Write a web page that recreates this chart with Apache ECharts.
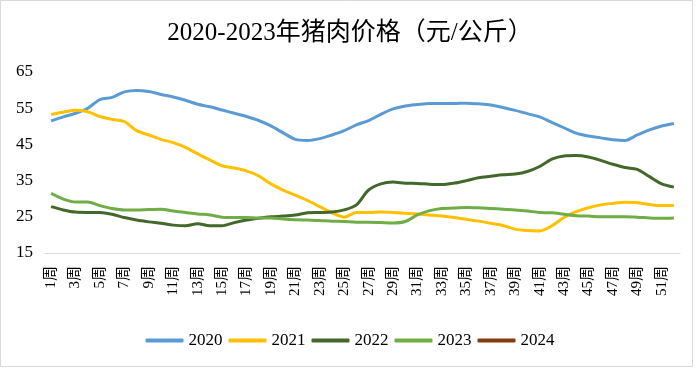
<!DOCTYPE html>
<html>
<head>
<meta charset="utf-8">
<script src="https://cdn.jsdelivr.net/npm/echarts@6/dist/echarts.min.js"></script>
<style>
html,body{margin:0;padding:0;background:#fff;}
#main{width:700px;height:368px;}
</style>
</head>
<body>
<div id="main"></div>
<script>
var titleText = '2020-2023年猪肉价格（元/公斤）';
var weeks = [];
for (var i = 1; i <= 52; i++) weeks.push(i + '周');
var yTicks = [15, 25, 35, 45, 55, 65];
var seriesNames = ['2020', '2021', '2022', '2023', '2024'];
var seriesColors = ['#5B9BD5', '#FFC000', '#43682B', '#70AD47', '#843C0C'];

var y2020 = [51.5,52.6,53.6,55,57.4,58,59.5,59.9,59.6,58.8,
             58.1,57.2,56.1,55.4,54.5,53.6,52.7,51.6,50.1,48.2,
             46.4,46.1,46.6,47.6,48.8,50.4,51.6,53.3,54.8,55.6,
             56,56.3,56.3,56.3,56.4,56.2,55.9,55.2,54.4,53.5,
             52.6,51.1,49.6,48.1,47.3,46.8,46.3,46.1,47.6,49,
             50.1,50.8];
var y2021 = [53.3,53.9,54.4,54,52.7,51.9,51.3,48.8,47.6,46.4,
             45.5,44.2,42.4,40.7,39.1,38.5,37.7,36.3,34.1,32.4,
             31,29.5,27.8,26.1,24.9,26.2,26.2,26.3,26.2,26.0,
             25.8,25.5,25.2,24.8,24.3,23.8,23.2,22.6,21.6,21.2,
             21.1,22.5,24.8,26.4,27.5,28.3,28.7,29,28.9,28.4,
             28.1,28.1];
var y2022 = [27.8,26.9,26.3,26.2,26.2,25.7,24.8,24.1,23.6,23.2,
             22.7,22.5,23.1,22.5,22.5,23.4,24.1,24.6,25,25.2,
             25.5,26.1,26.2,26.3,26.9,28.3,32.4,34.1,34.6,34.3,
             34.2,34,33.9,34.3,35,35.8,36.2,36.6,36.8,37.5,
             38.9,40.9,41.8,41.9,41.5,40.6,39.5,38.6,38.1,36.1,
             34.1,33.2];
var y2023 = [31.5,29.9,29.1,29.1,28.1,27.3,26.9,26.9,27.0,27.1,
             26.6,26.2,25.8,25.5,24.9,24.8,24.8,24.7,24.7,24.4,
             24.2,24.1,24.0,23.8,23.7,23.5,23.5,23.4,23.3,23.7,
             25.5,26.7,27.3,27.4,27.6,27.5,27.3,27.1,26.9,26.6,
             26.2,26.1,25.7,25.3,25.2,25,25,25,24.9,24.7,
             24.6,24.7];
var y2024 = [];

var allData = [y2020, y2021, y2022, y2023, y2024];
var fontFam = '"Liberation Serif", "Times New Roman", "Noto Sans CJK SC", serif';

var chart = echarts.init(document.getElementById('main'));
chart.setOption({
  animation: false,
  backgroundColor: '#fff',
  color: seriesColors,
  textStyle: { fontFamily: fontFam },
  title: {
    text: titleText,
    left: 'center',
    top: 16,
    textStyle: { fontFamily: fontFam, fontSize: 25, fontWeight: 'normal', color: '#000' }
  },
  legend: {
    bottom: 14,
    left: 'center',
    icon: 'roundRect',
    itemWidth: 38,
    itemHeight: 4,
    itemGap: 6,
    textStyle: { fontFamily: fontFam, fontSize: 17, color: '#000' },
    data: seriesNames
  },
  grid: { left: 45, right: 20, top: 72, bottom: 115, containLabel: false },
  xAxis: {
    type: 'category',
    data: weeks,
    boundaryGap: true,
    axisLine: { lineStyle: { color: '#D9D9D9', width: 1 } },
    axisTick: { show: false },
    axisLabel: { interval: 1, rotate: 90, fontSize: 15, color: '#000', margin: 13, fontFamily: fontFam }
  },
  yAxis: {
    type: 'value',
    min: yTicks[0],
    max: yTicks[yTicks.length - 1],
    interval: 10,
    axisLine: { show: false },
    axisTick: { show: false },
    splitLine: { show: false },
    axisLabel: { fontSize: 17, color: '#000', margin: 12, fontFamily: fontFam }
  },
  graphic: [{
    type: 'rect',
    shape: { x: 0.5, y: 0.5, width: 692, height: 366 },
    style: { fill: 'none', stroke: '#D9D9D9', lineWidth: 1 },
    silent: true
  }],
  series: seriesNames.map(function (n, k) {
    return {
      name: n,
      type: 'line',
      data: allData[k],
      symbol: 'none',
      smooth: 0.3,
      lineStyle: { width: 3, color: seriesColors[k] },
      itemStyle: { color: seriesColors[k] }
    };
  })
});
</script>
</body>
</html>
